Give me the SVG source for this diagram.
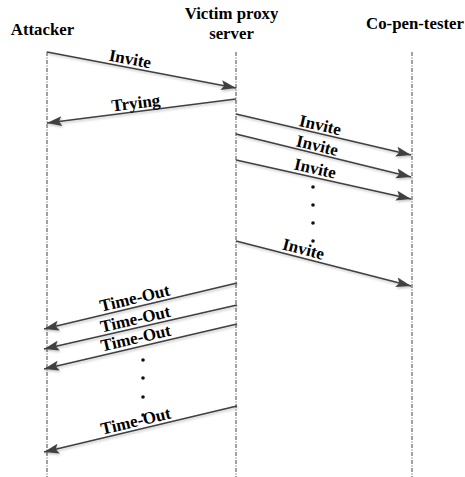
<svg xmlns="http://www.w3.org/2000/svg" width="465" height="477" viewBox="0 0 465 477">
<defs>
<style>
.hdr{font-family:"Liberation Serif","Times New Roman",serif;font-weight:bold;font-size:16.8px;fill:#000;text-anchor:middle}
.lbl{font-family:"Liberation Serif","Times New Roman",serif;font-weight:bold;font-size:17px;fill:#000;text-anchor:middle}
.life{stroke:#444;stroke-width:1;stroke-dasharray:4 1.5 1 1.5;fill:none}
.msg{stroke:#404040;stroke-width:1.6;fill:none;marker-end:url(#ah);filter:url(#sh)}
.dot{fill:#111}
</style>
<marker id="ah" markerUnits="userSpaceOnUse" markerWidth="16" markerHeight="12" refX="15" refY="5" orient="auto" viewBox="0 0 16 10">
<path d="M0,0 L15,5 L0,10 L3,5 Z" fill="#404040"/>
</marker>
<filter id="sh" x="-10%" y="-50%" width="120%" height="200%">
<feDropShadow dx="1" dy="1.5" stdDeviation="0.8" flood-color="#000" flood-opacity="0.25"/>
</filter>
</defs>
<g id="attacker">
<text class="hdr" x="42.5" y="35">Attacker</text>
<line class="life" x1="47" y1="52" x2="47" y2="477"/>
</g>
<g id="victim">
<text class="hdr" x="231.5" y="19">Victim proxy</text>
<text class="hdr" x="231.5" y="39">server</text>
<line class="life" x1="236" y1="52" x2="236" y2="477"/>
</g>
<g id="copentester">
<text class="hdr" x="415" y="29">Co-pen-tester</text>
<line class="life" x1="412" y1="52" x2="412" y2="477"/>
</g>
<g id="connectors">
<line class="msg" x1="47" y1="52" x2="236" y2="88"/>
<text class="lbl" transform="translate(129,64.5) rotate(10.8)">Invite</text>
<line class="msg" x1="236" y1="99" x2="47" y2="123"/>
<text class="lbl" transform="translate(136.5,108.5) rotate(-7.2)">Trying</text>
<line class="msg" x1="236" y1="114" x2="411" y2="155"/>
<text class="lbl" transform="translate(319,130.5) rotate(13.2)">Invite</text>
<line class="msg" x1="236" y1="134" x2="411" y2="177"/>
<text class="lbl" transform="translate(316,151) rotate(13.8)">Invite</text>
<line class="msg" x1="236" y1="160" x2="411" y2="199"/>
<text class="lbl" transform="translate(314,174) rotate(12.6)">Invite</text>
<line class="msg" x1="236" y1="241" x2="411" y2="286"/>
<text class="lbl" transform="translate(302,254.5) rotate(14.4)">Invite</text>
<line class="msg" x1="237" y1="283" x2="44" y2="329"/>
<text class="lbl" transform="translate(136,303.5) rotate(-13.4)">Time-Out</text>
<line class="msg" x1="237" y1="305" x2="44" y2="349"/>
<text class="lbl" transform="translate(136.5,324.5) rotate(-12.8)">Time-Out</text>
<line class="msg" x1="237" y1="324" x2="44" y2="369"/>
<text class="lbl" transform="translate(137,343.5) rotate(-13.1)">Time-Out</text>
<line class="msg" x1="237" y1="406" x2="44" y2="452"/>
<text class="lbl" transform="translate(137,426.5) rotate(-13.4)">Time-Out</text>
</g>
<g id="dots">
<circle class="dot" cx="313" cy="187" r="1.8"/>
<circle class="dot" cx="313" cy="205" r="1.8"/>
<circle class="dot" cx="313" cy="223" r="1.8"/>
<circle class="dot" cx="313" cy="241" r="1.8"/>
<circle class="dot" cx="143" cy="360" r="1.8"/>
<circle class="dot" cx="143" cy="378" r="1.8"/>
<circle class="dot" cx="143" cy="397" r="1.8"/>
<circle class="dot" cx="143" cy="415" r="1.8"/>
</g>
</svg>
